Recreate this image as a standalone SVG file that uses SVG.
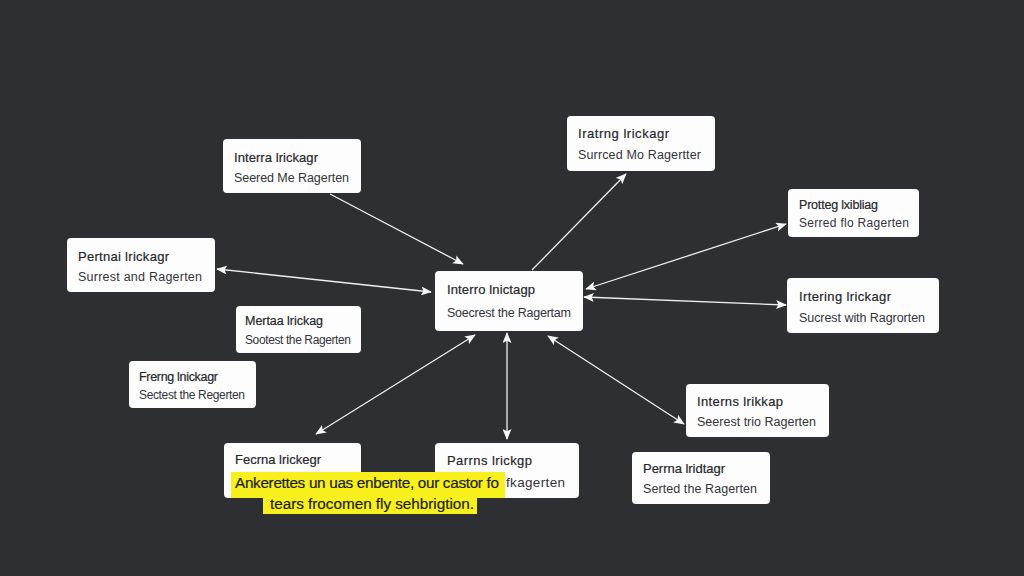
<svg xmlns="http://www.w3.org/2000/svg" width="1024" height="576" viewBox="0 0 1024 576">
  <style>
    .box { fill: #fdfdfd; }
    text { font-family: "Liberation Sans", Arial, sans-serif; fill: #26272b; }
    .t { font-size: 13px; stroke: #26272b; stroke-width: 0.2; }
    .s { font-size: 12.5px; fill: #33343a; }
    .t2 { font-size: 12.5px; stroke: #26272b; stroke-width: 0.2; }
    .s2 { font-size: 12px; fill: #33343a; }
    .s3 { font-size: 13.5px; fill: #33343a; }
    .cap { font-size: 15.3px; fill: #1c1c10; stroke: #1c1c10; stroke-width: 0.2; }
    .hl { fill: #f7f01c; }
    .c { fill: none; stroke: #f0f0f0; stroke-width: 1.3; }
  </style>
  <defs>
    <marker id="a" viewBox="0 0 12 10" refX="11" refY="5" markerWidth="11" markerHeight="9" markerUnits="userSpaceOnUse" orient="auto-start-reverse">
      <path d="M0 0L12 5L0 10L2.5 5Z" fill="#f5f5f5"/>
    </marker>
  </defs>
  <rect width="1024" height="576" fill="#2e2f33"/>
  <g id="connectors">
    <line class="c" x1="330" y1="194" x2="463" y2="264" marker-end="url(#a)"/>
    <line class="c" x1="532" y1="270" x2="626" y2="174" marker-end="url(#a)"/>
    <line class="c" x1="586" y1="289" x2="786" y2="224" marker-start="url(#a)" marker-end="url(#a)"/>
    <line class="c" x1="584" y1="297" x2="786" y2="305" marker-start="url(#a)" marker-end="url(#a)"/>
    <line class="c" x1="217" y1="269" x2="431" y2="292" marker-start="url(#a)" marker-end="url(#a)"/>
    <line class="c" x1="475" y1="335" x2="316" y2="434" marker-start="url(#a)" marker-end="url(#a)"/>
    <line class="c" x1="507" y1="333" x2="507" y2="439" marker-start="url(#a)" marker-end="url(#a)"/>
    <line class="c" x1="548" y1="336" x2="684" y2="424" marker-start="url(#a)" marker-end="url(#a)"/>
  </g>
  <g id="node-top-left">
    <rect class="box" x="223" y="139" width="138" height="54" rx="4"/>
    <text class="t" x="234" y="162" textLength="84">Interra lrickagr</text>
    <text class="s" x="234" y="182" textLength="115">Seered Me Ragerten</text>
  </g>
  <g id="node-top">
    <rect class="box" x="567" y="116" width="148" height="55" rx="4"/>
    <text class="t" x="578" y="138" textLength="91">Iratrng lrickagr</text>
    <text class="s" x="578" y="159" textLength="123">Surrced Mo Ragertter</text>
  </g>
  <g id="node-upper-right">
    <rect class="box" x="788" y="189" width="131" height="48" rx="4"/>
    <text class="t2" x="799" y="209" textLength="79">Protteg lxibliag</text>
    <text class="s2" x="799" y="227" textLength="110">Serred flo Ragerten</text>
  </g>
  <g id="node-right">
    <rect class="box" x="787" y="278" width="152" height="55" rx="4"/>
    <text class="t" x="799" y="301" textLength="92">Irtering lrickagr</text>
    <text class="s" x="799" y="322" textLength="126">Sucrest with Ragrorten</text>
  </g>
  <g id="node-center">
    <rect class="box" x="435" y="271" width="148" height="60" rx="4"/>
    <text class="t" x="447" y="294" textLength="88">Interro lnictagp</text>
    <text class="s" x="447" y="317" textLength="124">Soecrest the Ragertam</text>
  </g>
  <g id="node-left">
    <rect class="box" x="67" y="238" width="148" height="54" rx="4"/>
    <text class="t" x="78" y="261" textLength="91">Pertnai lrickagr</text>
    <text class="s" x="78" y="281" textLength="124">Surrest and Ragerten</text>
  </g>
  <g id="node-mid-left">
    <rect class="box" x="236" y="306" width="125" height="47" rx="4"/>
    <text class="t2" x="245" y="325" textLength="78">Mertaa lrickag</text>
    <text class="s2" x="245" y="344" textLength="106">Sootest the Ragerten</text>
  </g>
  <g id="node-lower-left">
    <rect class="box" x="129" y="361" width="127" height="47" rx="4"/>
    <text class="t2" x="139" y="381" textLength="79">Frerng lnickagr</text>
    <text class="s2" x="139" y="399" textLength="106">Sectest the Regerten</text>
  </g>
  <g id="node-bottom-left">
    <rect class="box" x="224" y="443" width="137" height="55" rx="4"/>
    <text class="t" x="235" y="464" textLength="86">Fecrna lrickegr</text>
  </g>
  <g id="node-bottom">
    <rect class="box" x="435" y="443" width="144" height="55" rx="4"/>
    <text class="t" x="447" y="465" textLength="85">Parrns lrickgp</text>
    <text class="s3" x="506" y="487" textLength="59">fkagerten</text>
  </g>
  <g id="node-lower-right">
    <rect class="box" x="686" y="384" width="143" height="53" rx="4"/>
    <text class="t" x="697" y="406" textLength="86">Interns lrikkap</text>
    <text class="s" x="697" y="426" textLength="119">Seerest trio Ragerten</text>
  </g>
  <g id="node-bottom-right">
    <rect class="box" x="632" y="452" width="138" height="52" rx="4"/>
    <text class="t" x="643" y="473" textLength="82">Perrna lridtagr</text>
    <text class="s" x="643" y="493" textLength="114">Serted the Ragerten</text>
  </g>
  <g id="caption">
    <rect class="hl" x="231" y="472" width="274" height="26"/>
    <rect class="hl" x="263" y="497" width="214" height="17"/>
    <text class="cap" x="235" y="488" textLength="264">Ankerettes un uas enbente, our castor fo</text>
    <text class="cap" x="270" y="509" textLength="204">tears frocomen fly sehbrigtion.</text>
  </g>
</svg>
